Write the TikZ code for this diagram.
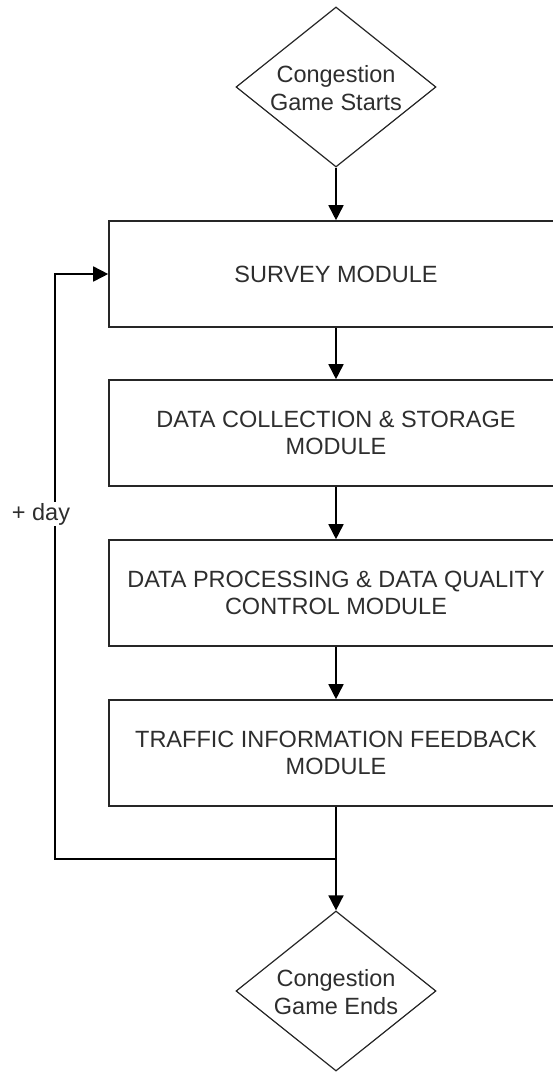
\documentclass[tikz,border=0pt]{standalone}
\usepackage{fontspec}
\setmainfont{Liberation Sans}
\usetikzlibrary{shapes.geometric,arrows.meta}
\begin{document}
\begin{tikzpicture}[x=1pt,y=-1pt,
  line width=1.6pt, draw=black!85,
  every node/.style={text=black!82, font=\fontsize{23.5}{27.5}\selectfont},
  modbox/.style={draw=black!85, rectangle, minimum width=454pt, minimum height=106pt, inner sep=0pt, align=center},
  decis/.style={draw=black!85, diamond, minimum width=200pt, minimum height=160pt, inner sep=0pt, line width=1.2pt},
  lbl/.style={align=center, inner sep=0pt},
  arr/.style={-{Triangle[length=15pt,width=15pt]}, draw=black}
]
\useasboundingbox (0,0) rectangle (553,1072);
\fill[white] (0,0) rectangle (553,1072);

\node[decis] (start) at (336,87) {};
\node[lbl] (starttxt) at (336,88) {Congestion\\Game Starts};

\node[modbox] (b1) at (336,274) {SURVEY MODULE};
\node[modbox] (b2) at (336,433) {DATA COLLECTION \& STORAGE\\MODULE};
\node[modbox] (b3) at (336,593) {DATA PROCESSING \& DATA QUALITY\\CONTROL MODULE};
\node[modbox] (b4) at (336,753) {TRAFFIC INFORMATION FEEDBACK\\MODULE};

\node[decis] (end) at (336,991) {};
\node[lbl] (endtxt) at (336,992) {Congestion\\Game Ends};

\draw[arr] (start.south) -- (b1.north);
\draw[arr] (b1.south) -- (b2.north);
\draw[arr] (b2.south) -- (b3.north);
\draw[arr] (b3.south) -- (b4.north);
\draw[arr] (b4.south) -- (end.north);

\coordinate (split) at (336,859);
\coordinate (back) at (55,859);
\draw[arr] (split) -- (back) |- (b1.west);
\node[fill=white, inner sep=1.5pt] (day) at (41,514) {+ day};
\end{tikzpicture}
\end{document}
